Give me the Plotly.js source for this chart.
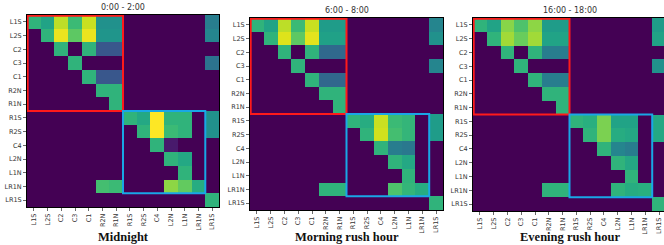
<!DOCTYPE html>
<html>
<head>
<meta charset="utf-8">
<script src="https://cdn.plot.ly/plotly-3.0.1.min.js"></script>
<style>
html,body{margin:0;padding:0;overflow:hidden;background:#fff;}
#chart{width:668px;height:245px;}
</style>
</head>
<body>
<div id="chart"></div>
<script>
const labels = ["L1S","L2S","C2","C3","C1","R2N","R1N","R1S","R2S","C4","L2N","L1N","LR1N","LR1S"];
const panelTitles = ["0:00 - 2:00","6:00 - 8:00","16:00 - 18:00"];
const captions = ["Midnight","Morning rush hour","Evening rush hour"];

const midnight = [
  [0.65,0.58,0.90,0.68,0.92,0.50,0.50,0,0,0,0,0,0,0.42],
  [0,0.65,0.97,0.75,0.97,0.52,0.52,0,0,0,0,0,0,0.45],
  [0,0,0.65,0,0.65,0.27,0.27,0,0,0,0,0,0,0],
  [0,0,0,0.65,0,0,0,0,0,0,0,0,0,0.38],
  [0,0,0,0,0.65,0.27,0.27,0,0,0,0,0,0,0],
  [0,0,0,0,0,0.65,0.65,0,0,0,0,0,0,0],
  [0,0,0,0,0,0,0.65,0,0,0,0,0,0,0],
  [0,0,0,0,0,0,0,0.65,0.60,1.00,0.65,0.65,0,0.50],
  [0,0,0,0,0,0,0,0,0.65,1.00,0.68,0.65,0,0.50],
  [0,0,0,0,0,0,0,0,0,0.65,0.07,0,0,0],
  [0,0,0,0,0,0,0,0,0,0,0.65,0.60,0,0],
  [0,0,0,0,0,0,0,0,0,0,0,0.65,0,0],
  [0,0,0,0,0,0.70,0.68,0,0,0,0.83,0.76,0.62,0],
  [0,0,0,0,0,0,0,0,0,0,0,0,0,0.65]
];
const morning = [
  [0.65,0.58,0.90,0.68,0.92,0.55,0.55,0,0,0,0,0,0,0.45],
  [0,0.65,0.95,0.75,0.96,0.57,0.57,0,0,0,0,0,0,0.50],
  [0,0,0.65,0,0.65,0.34,0.34,0,0,0,0,0,0,0],
  [0,0,0,0.65,0,0,0,0,0,0,0,0,0,0.45],
  [0,0,0,0,0.65,0.33,0.33,0,0,0,0,0,0,0],
  [0,0,0,0,0,0.65,0.65,0,0,0,0,0,0,0],
  [0,0,0,0,0,0,0.65,0,0,0,0,0,0,0],
  [0,0,0,0,0,0,0,0.65,0.62,0.92,0.68,0.66,0,0.55],
  [0,0,0,0,0,0,0,0,0.65,0.93,0.70,0.66,0,0.55],
  [0,0,0,0,0,0,0,0,0,0.65,0.42,0.40,0,0],
  [0,0,0,0,0,0,0,0,0,0,0.65,0.60,0,0],
  [0,0,0,0,0,0,0,0,0,0,0,0.65,0,0],
  [0,0,0,0,0,0.65,0.65,0,0,0,0.72,0.66,0.62,0],
  [0,0,0,0,0,0,0,0,0,0,0,0,0,0.65]
];
const evening = [
  [0.65,0.58,0.82,0.72,0.83,0.55,0.55,0,0,0,0,0,0,0.55],
  [0,0.65,0.86,0.77,0.86,0.58,0.58,0,0,0,0,0,0,0.58],
  [0,0,0.65,0,0.65,0.42,0.42,0,0,0,0,0,0,0],
  [0,0,0,0.65,0,0,0,0,0,0,0,0,0,0.50],
  [0,0,0,0,0.65,0.42,0.42,0,0,0,0,0,0,0],
  [0,0,0,0,0,0.65,0.65,0,0,0,0,0,0,0],
  [0,0,0,0,0,0,0.65,0,0,0,0,0,0,0],
  [0,0,0,0,0,0,0,0.65,0.63,0.80,0.58,0.58,0,0.60],
  [0,0,0,0,0,0,0,0,0.65,0.80,0.62,0.60,0,0.60],
  [0,0,0,0,0,0,0,0,0,0.65,0.45,0.42,0,0],
  [0,0,0,0,0,0,0,0,0,0,0.65,0.60,0,0],
  [0,0,0,0,0,0,0,0,0,0,0,0.65,0,0],
  [0,0,0,0,0,0.65,0.65,0,0,0,0.65,0.62,0.63,0],
  [0,0,0,0,0,0,0,0,0,0,0,0,0,0.65]
];
const matrices = [midnight, morning, evening];

const W = 668, H = 245;
// pixel boxes of each heatmap [x0,x1,y0,y1]
const boxes = [[27,219,15,207],[250,443,18,210],[473,666,18,211]];

const data = [];
const layout = {
  width: W, height: H,
  margin: {l:0,r:0,t:0,b:0},
  paper_bgcolor: "#fff", plot_bgcolor: "#fff",
  showlegend: false,
  font: {family: "DejaVu Sans", size: 7, color: "#333"},
  annotations: [], shapes: []
};

matrices.forEach((m, i) => {
  const xa = i === 0 ? "x" : "x" + (i+1);
  const ya = i === 0 ? "y" : "y" + (i+1);
  data.push({
    type: "heatmap", z: m, x: labels, y: labels,
    xaxis: xa, yaxis: ya,
    colorscale: "Viridis", zmin: 0, zmax: 1, showscale: false,
    hoverongaps: false
  });
  const b = boxes[i];
  const axBase = {
    showgrid: false, zeroline: false, showline: true, mirror: true,
    linecolor: "#000", linewidth: 1, ticks: "outside", ticklen: 3,
    tickwidth: 0.8, tickcolor: "#444",
    tickfont: {family: "DejaVu Sans", size: 6.5, color: "#333"},
    type: "category", fixedrange: true
  };
  layout["xaxis" + (i===0 ? "" : i+1)] = Object.assign({}, axBase, {
    domain: [b[0]/W, b[1]/W], anchor: ya, tickangle: -90,
    range: [-0.5, 13.5]
  });
  layout["yaxis" + (i===0 ? "" : i+1)] = Object.assign({}, axBase, {
    domain: [1 - b[3]/H, 1 - b[2]/H], anchor: xa,
    range: [13.5, -0.5]
  });
  layout.shapes.push({type:"rect", xref: xa, yref: ya, x0:-0.45, x1:6.5, y0:-0.45, y1:6.5,
    line:{color:"#ff1a1a", width:2}});
  layout.shapes.push({type:"rect", xref: xa, yref: ya, x0:6.5, x1:12.5, y0:6.5, y1:12.5,
    line:{color:"#19a7e6", width:2}});
  const cx = (b[0] + b[1]) / 2 / W;
  layout.annotations.push({text: panelTitles[i], xref:"paper", yref:"paper",
    x: cx, y: 1 - (b[2] - 8)/H, xanchor:"center", yanchor:"middle", showarrow:false,
    font:{family:"DejaVu Sans", size:8, color:"#333"}});
  layout.annotations.push({text: "<b>" + captions[i] + "</b>", xref:"paper", yref:"paper",
    x: cx, y: 1 - 236.5/H, xanchor:"center", yanchor:"middle", showarrow:false,
    font:{family:"Liberation Serif", size:12.5, color:"#111"}});
});

Plotly.newPlot("chart", data, layout, {staticPlot: true, displayModeBar: false});
</script>
</body>
</html>
